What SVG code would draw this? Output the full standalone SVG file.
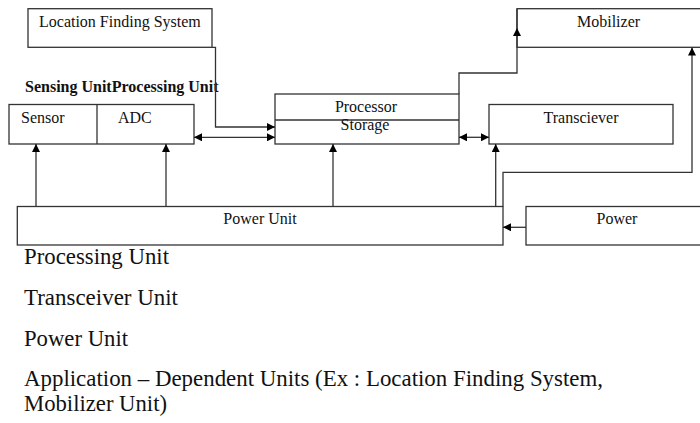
<svg xmlns="http://www.w3.org/2000/svg" width="700" height="423" viewBox="0 0 700 423">
<style>
.box{fill:#fff;stroke:#333;stroke-width:1.3}
.ln{fill:none;stroke:#333;stroke-width:1.3}
.lbl{font-family:"Liberation Serif","Times New Roman",serif;font-size:16px;fill:#111}
.big{font-family:"Liberation Serif","Times New Roman",serif;font-size:22.5px;fill:#111}
.hdr{font-family:"Liberation Serif","Times New Roman",serif;font-size:16px;font-weight:bold;fill:#111}
</style>
<defs>
<marker id="ah" viewBox="0 0 10 10" refX="10" refY="5" markerWidth="9" markerHeight="8" markerUnits="userSpaceOnUse" orient="auto-start-reverse">
<path d="M0,0 L10,5 L0,10 z" fill="#000"/>
</marker>
</defs>
<rect width="700" height="423" fill="#fff"/>

<g id="location-finding-system">
<rect class="box" x="28" y="8.7" width="184" height="38.6"/>
<text class="lbl" x="39" y="27">Location Finding System</text>
</g>

<g id="mobilizer">
<rect class="box" x="517" y="8.7" width="200" height="38.6"/>
<text class="lbl" x="577" y="27">Mobilizer</text>
</g>

<text class="hdr" x="25" y="92">Sensing UnitProcessing Unit</text>

<g id="sensing-unit">
<rect class="box" x="9" y="104.5" width="185" height="39.5"/>
<line class="ln" x1="97" y1="104.5" x2="97" y2="144"/>
<text class="lbl" x="21" y="123">Sensor</text>
<text class="lbl" x="118" y="123">ADC</text>
</g>

<g id="processing-unit">
<rect class="box" x="275" y="94" width="184" height="50"/>
<line class="ln" x1="275" y1="120" x2="459" y2="120"/>
<text class="lbl" x="366" y="112" text-anchor="middle">Processor</text>
<text class="lbl" x="365" y="130" text-anchor="middle">Storage</text>
</g>

<g id="transceiver">
<rect class="box" x="489" y="104.5" width="184" height="39.5"/>
<text class="lbl" x="581" y="123" text-anchor="middle">Transciever</text>
</g>

<g id="power-unit">
<rect class="box" x="17.3" y="206.5" width="485.7" height="38.5"/>
<text class="lbl" x="260" y="223.5" text-anchor="middle">Power Unit</text>
</g>

<g id="power">
<rect class="box" x="526" y="206.5" width="200" height="38.5"/>
<text class="lbl" x="617" y="223.5" text-anchor="middle">Power</text>
</g>

<g id="connectors">
<path class="ln" d="M212,47.3 H215.5 V127 H275" marker-end="url(#ah)"/>
<path class="ln" d="M194,137.3 H275" marker-start="url(#ah)" marker-end="url(#ah)"/>
<path class="ln" d="M459,94 V73 H517 V28" marker-end="url(#ah)"/>
<path class="ln" d="M517,28 V8.7"/>
<path class="ln" d="M459,137.3 H489" marker-start="url(#ah)" marker-end="url(#ah)"/>
<path class="ln" d="M503,206.5 V172.3 H692 V47.5" marker-end="url(#ah)"/>
<path class="ln" d="M36,206.5 V144" marker-end="url(#ah)"/>
<path class="ln" d="M166,206.5 V144" marker-end="url(#ah)"/>
<path class="ln" d="M333,206.5 V144" marker-end="url(#ah)"/>
<path class="ln" d="M495.7,206.5 V144" marker-end="url(#ah)"/>
<path class="ln" d="M526,227.3 H503" marker-end="url(#ah)"/>
</g>

<g id="notes">
<text class="big" x="24" y="264" textLength="145" lengthAdjust="spacingAndGlyphs">Processing Unit</text>
<text class="big" x="24" y="304.5" textLength="154" lengthAdjust="spacingAndGlyphs">Transceiver Unit</text>
<text class="big" x="24" y="346" textLength="104" lengthAdjust="spacingAndGlyphs">Power Unit</text>
<text class="big" x="24" y="385.5" textLength="579" lengthAdjust="spacingAndGlyphs">Application – Dependent Units (Ex : Location Finding System,</text>
<text class="big" x="24" y="411" textLength="143" lengthAdjust="spacingAndGlyphs">Mobilizer Unit)</text>
</g>
</svg>
